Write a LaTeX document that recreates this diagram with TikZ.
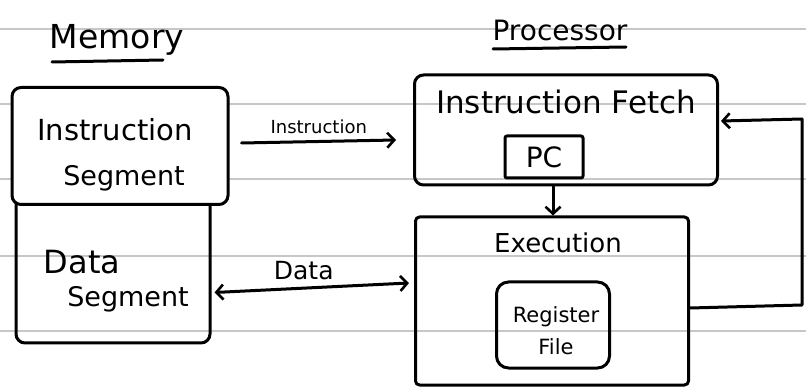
\documentclass[tikz,border=0pt]{standalone}
\usepackage{fontspec}
\setmainfont{DejaVu Sans}
\usetikzlibrary{arrows.meta}
\tikzset{
  ink/.style={line width=3pt, black, line cap=round, line join=round},
  paperline/.style={line width=1.6pt, color=black!22},
  box/.style={ink, draw, rounded corners=9pt, inner sep=0pt, align=center},
  arr/.style={ink, -{Straight Barb[length=7pt,width=15pt,line width=2.6pt]}},
  darr/.style={ink, {Straight Barb[length=7pt,width=15pt,line width=2.6pt]}-{Straight Barb[length=7pt,width=15pt,line width=2.6pt]}},
  txt/.style={inner sep=0pt, align=center},
}
\newcommand{\fs}[1]{\fontsize{#1}{1.15\dimexpr#1pt\relax}\selectfont}
\begin{document}
\begin{tikzpicture}[x=1pt,y=-1pt]
\useasboundingbox (0,0) rectangle (806,387);
% lined paper
\foreach \yy in {29,104,179,256,331} \draw[paperline] (0,\yy) -- (806,\yy);
% titles
\node[txt, font=\fs{33}] (memtitle) at (117,40) {Memory};
\draw[ink] (52,62) -- (163,60);
\node[txt, font=\fs{28}] (proctitle) at (560,30) {Processor};
\draw[ink] (493,49) -- (626,47);
% memory
\node[box, minimum width=194pt, minimum height=153pt] (dseg) at (113,266.5) {};
\node[box, fill=white, minimum width=216pt, minimum height=117pt] (iseg) at (120,146) {};
\node[txt, font=\fs{29}] (isegA) at (115,130) {Instruction};
\node[txt, font=\fs{27}] (isegB) at (124,178) {Segment};
\node[txt, font=\fs{32}] (dsegA) at (82,262) {Data};
\node[txt, font=\fs{27}] (dsegB) at (128,299) {Segment};
% processor
\node[box, minimum width=303pt, minimum height=110pt] (ifetch) at (566,130) {};
\node[txt, font=\fs{31}] (iftxt) at (566,102) {Instruction Fetch};
\node[ink, draw, rounded corners=2pt, minimum width=78pt, minimum height=42pt, font=\fs{28}] (pc) at (544,157) {PC};
\node[box, rounded corners=4pt, minimum width=273pt, minimum height=168pt] (exec) at (552,301) {};
\node[txt, font=\fs{26}] (extxt) at (558,243) {Execution};
\node[box, rounded corners=12pt, minimum width=113pt, minimum height=86pt] (regfile) at (553,325) {};
\node[txt, font=\fs{21}] (rfA) at (556,317) {Register};
\node[txt, font=\fs{21}] (rfB) at (556,347) {File};
% connectors
\draw[arr] ([xshift=12pt,yshift=3pt]iseg.east) -- node[above=6pt, font=\fs{18}, inner sep=0pt] (ilabel) {Instruction} ([xshift=-17pt,yshift=-10pt]ifetch.west);
\draw[darr] ([xshift=3pt,yshift=-26pt]dseg.east) -- node[above=6pt, font=\fs{25}, inner sep=0pt, xshift=-8pt] (dlabel) {Data} ([xshift=-5pt,yshift=18pt]exec.west);
\draw[arr] ([xshift=-13pt]ifetch.south) -- ([xshift=1pt]exec.north);
\coordinate (fbr) at (802,0);
\draw[arr] ([yshift=-7pt]exec.east) -- ([yshift=-4pt]exec.east -| fbr) -- ([yshift=11pt]ifetch.east -| fbr) -- ([xshift=2pt,yshift=9pt]ifetch.east);
\end{tikzpicture}
\end{document}
